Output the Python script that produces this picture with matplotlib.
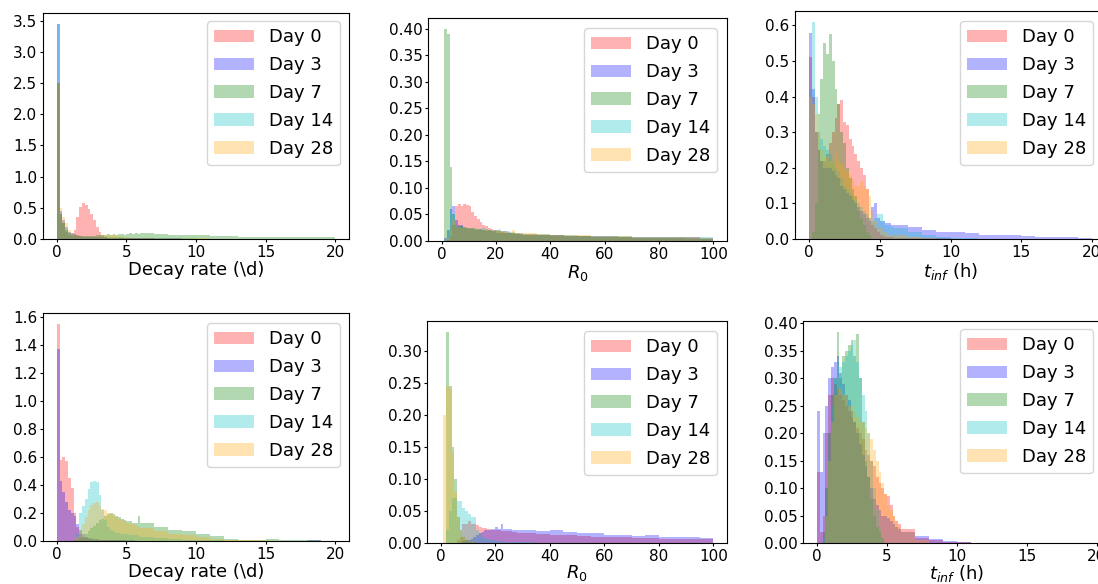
import numpy as np
import matplotlib
matplotlib.use("Agg")
import matplotlib.pyplot as plt
from matplotlib.ticker import MultipleLocator

# ---------------- data ----------------
labels = ["Day 0", "Day 3", "Day 7", "Day 14", "Day 28"]
colors = ["red", "blue", "green", "c", "orange"]

# bins: 30 fine bins followed by 14 coarse tail bins
rate_edges = list(np.linspace(0, 6, 31)) + list(range(7, 21))   # decay rate and t_inf
r0_edges = list(np.linspace(0, 30, 31)) + list(range(35, 101, 5))  # R0

# ---- top row: decay rate ----
A_d0 = [2.5, 0.4, 0.25, 0.12, 0.06, 0.05, 0.15, 0.35, 0.52, 0.57, 0.55, 0.48, 0.4, 0.3, 0.2, 0.12, 0.06, 0.03, 0.02, 0.02,
        0.02, 0.02, 0.02, 0.015, 0.015, 0.015, 0.01, 0.01, 0.01, 0.01,
        0.01, 0.008, 0.008, 0.006, 0.005, 0.005, 0.004, 0.004, 0.003, 0.003, 0.002, 0.002, 0.002, 0.002]
A_d3 = [3.45, 0.45, 0.3, 0.2, 0.12, 0.1, 0.08, 0.06, 0.05, 0.04, 0.04, 0.03, 0.03, 0.03, 0.03, 0.03, 0.03, 0.03, 0.02, 0.02,
        0.02, 0.02, 0.02, 0.02, 0.02, 0.015, 0.015, 0.015, 0.015, 0.015,
        0.012, 0.01, 0.01, 0.008, 0.008, 0.006, 0.006, 0.005, 0.005, 0.004, 0.004, 0.003, 0.003, 0.002]
A_d7 = [2.5, 0.4, 0.25, 0.15, 0.1, 0.08, 0.06, 0.05, 0.05, 0.05, 0.05, 0.05, 0.05, 0.05, 0.06, 0.06, 0.07, 0.07, 0.08, 0.07,
        0.08, 0.07, 0.08, 0.08, 0.07, 0.08, 0.09, 0.08, 0.09, 0.08,
        0.1, 0.08, 0.07, 0.065, 0.06, 0.05, 0.045, 0.04, 0.035, 0.035, 0.035, 0.03, 0.03, 0.025]
A_d14 = [3.45, 0.4, 0.25, 0.15, 0.1, 0.07, 0.05, 0.04, 0.03, 0.03, 0.03, 0.03, 0.03, 0.03, 0.03, 0.03, 0.03, 0.03, 0.03, 0.03,
         0.03, 0.025, 0.025, 0.025, 0.02, 0.02, 0.02, 0.02, 0.02, 0.02,
         0.015, 0.012, 0.01, 0.01, 0.008, 0.008, 0.006, 0.005, 0.005, 0.004, 0.003, 0.003, 0.002, 0.002]
A_d28 = [2.5, 0.5, 0.35, 0.25, 0.15, 0.1, 0.08, 0.06, 0.05, 0.04, 0.03, 0.03, 0.03, 0.03, 0.03, 0.04, 0.05, 0.06, 0.07, 0.07,
         0.07, 0.06, 0.05, 0.04, 0.03, 0.03, 0.02, 0.02, 0.02, 0.02,
         0.015, 0.015, 0.012, 0.01, 0.01, 0.008, 0.006, 0.005, 0.005, 0.004, 0.003, 0.003, 0.002, 0.002]

# ---- top row: R0 ----
B_d0 = [0, 0, 0.002, 0.01, 0.03, 0.065, 0.07, 0.065, 0.07, 0.068, 0.065, 0.055, 0.048, 0.042, 0.035, 0.03, 0.028, 0.025, 0.022, 0.02,
        0.02, 0.019, 0.018, 0.018, 0.017, 0.016, 0.016, 0.015, 0.015, 0.014,
        0.013, 0.012, 0.011, 0.01, 0.009, 0.008, 0.008, 0.007, 0.006, 0.006, 0.005, 0.005, 0.005, 0.004]
B_d3 = [0, 0.005, 0.02, 0.06, 0.065, 0.04, 0.03, 0.03, 0.025, 0.025, 0.022, 0.022, 0.02, 0.02, 0.02, 0.02, 0.018, 0.02, 0.018, 0.018,
        0.016, 0.016, 0.016, 0.015, 0.015, 0.015, 0.014, 0.014, 0.013, 0.013,
        0.012, 0.012, 0.011, 0.01, 0.01, 0.009, 0.009, 0.008, 0.008, 0.008, 0.007, 0.007, 0.007, 0.006]
B_d7 = [0, 0.4, 0.39, 0.14, 0.05, 0.03, 0.028, 0.028, 0.026, 0.025, 0.025, 0.024, 0.023, 0.022, 0.022, 0.021, 0.02, 0.02, 0.019, 0.019,
        0.018, 0.018, 0.017, 0.016, 0.016, 0.015, 0.015, 0.014, 0.014, 0.013,
        0.012, 0.011, 0.01, 0.009, 0.009, 0.008, 0.007, 0.007, 0.006, 0.006, 0.005, 0.005, 0.004, 0.004]
B_d14 = [0, 0, 0.02, 0.06, 0.05, 0.03, 0.028, 0.026, 0.026, 0.025, 0.025, 0.024, 0.024, 0.023, 0.022, 0.025, 0.022, 0.021, 0.02, 0.02,
         0.02, 0.022, 0.019, 0.018, 0.018, 0.017, 0.017, 0.016, 0.016, 0.015,
         0.014, 0.013, 0.012, 0.011, 0.01, 0.01, 0.009, 0.009, 0.008, 0.008, 0.008, 0.007, 0.007, 0.007]
B_d28 = [0, 0, 0.005, 0.02, 0.04, 0.03, 0.026, 0.025, 0.025, 0.024, 0.024, 0.023, 0.022, 0.022, 0.021, 0.02, 0.02, 0.02, 0.019, 0.019,
         0.018, 0.018, 0.017, 0.017, 0.016, 0.016, 0.02, 0.016, 0.015, 0.015,
         0.016, 0.014, 0.012, 0.011, 0.012, 0.01, 0.009, 0.009, 0.008, 0.008, 0.008, 0.007, 0.007, 0.006]

# ---- top row: t_inf ----
C_d0 = [0.51, 0.4, 0.3, 0.25, 0.22, 0.22, 0.24, 0.27, 0.3, 0.34, 0.38, 0.39, 0.33, 0.32, 0.28, 0.26, 0.24, 0.22, 0.2, 0.18,
        0.14, 0.06, 0.04, 0.03, 0.02, 0.01, 0.008, 0.006, 0.005, 0.005,
        0.004, 0.003, 0.002, 0.002, 0.001, 0.001, 0, 0, 0, 0, 0, 0, 0, 0]
C_d3 = [0.58, 0.42, 0.3, 0.25, 0.22, 0.2, 0.2, 0.2, 0.19, 0.18, 0.17, 0.15, 0.14, 0.13, 0.12, 0.11, 0.1, 0.09, 0.08, 0.07,
        0.06, 0.05, 0.09, 0.1, 0.06, 0.05, 0.05, 0.045, 0.045, 0.04,
        0.04, 0.035, 0.025, 0.02, 0.02, 0.018, 0.012, 0.01, 0.012, 0.008, 0.006, 0.006, 0.005, 0.004]
C_d7 = [0, 0.02, 0.1, 0.35, 0.45, 0.55, 0.52, 0.575, 0.5, 0.42, 0.38, 0.3, 0.27, 0.2, 0.17, 0.14, 0.12, 0.08, 0.06, 0.04,
        0.02, 0.01, 0, 0, 0, 0, 0, 0, 0, 0,
        0, 0, 0, 0, 0, 0, 0, 0, 0, 0, 0, 0, 0, 0]
C_d14 = [0.42, 0.61, 0.4, 0.3, 0.28, 0.26, 0.25, 0.24, 0.22, 0.2, 0.19, 0.17, 0.15, 0.14, 0.13, 0.12, 0.11, 0.1, 0.09, 0.08,
         0.07, 0.06, 0.05, 0.06, 0.07, 0.07, 0.05, 0.04, 0.04, 0.035,
         0.03, 0.02, 0.01, 0.005, 0.003, 0.002, 0, 0, 0, 0, 0, 0, 0, 0]
C_d28 = [0.4, 0.38, 0.35, 0.3, 0.25, 0.23, 0.23, 0.22, 0.22, 0.24, 0.22, 0.21, 0.2, 0.19, 0.18, 0.17, 0.15, 0.15, 0.16, 0.15,
         0.14, 0.12, 0.08, 0.05, 0.03, 0.03, 0.02, 0.02, 0.01, 0.01,
         0.01, 0.005, 0.002, 0, 0, 0, 0, 0, 0, 0, 0, 0, 0, 0]

# ---- bottom row: decay rate ----
D_d0 = [1.55, 0.58, 0.6, 0.57, 0.45, 0.38, 0.2, 0.1, 0.05, 0.03, 0.02, 0.015, 0.01, 0.01, 0.01, 0.008, 0.008, 0.006, 0.006, 0.005,
        0.005, 0.004, 0.004, 0.004, 0.003, 0.003, 0.003, 0.002, 0.002, 0.002,
        0.002, 0.001, 0.001, 0.001, 0, 0, 0, 0, 0, 0, 0, 0, 0, 0]
D_d3 = [1.37, 0.43, 0.35, 0.28, 0.22, 0.2, 0.18, 0.12, 0.08, 0.05, 0.03, 0.02, 0.02, 0.015, 0.012, 0.01, 0.01, 0.008, 0.008, 0.007,
        0.006, 0.006, 0.005, 0.005, 0.005, 0.004, 0.004, 0.004, 0.003, 0.003,
        0.003, 0.003, 0.002, 0.002, 0.002, 0.002, 0.001, 0.001, 0.001, 0.001, 0.001, 0.001, 0.005, 0.001]
D_d7 = [0, 0, 0, 0, 0, 0, 0.005, 0.01, 0.02, 0.03, 0.05, 0.07, 0.09, 0.11, 0.13, 0.15, 0.16, 0.18, 0.19, 0.2,
        0.19, 0.18, 0.17, 0.16, 0.15, 0.14, 0.14, 0.13, 0.13, 0.18,
        0.13, 0.1, 0.08, 0.07, 0.05, 0.035, 0.012, 0.01, 0.006, 0.012, 0.01, 0.008, 0.004, 0.002]
D_d14 = [0, 0, 0, 0, 0, 0, 0.01, 0.05, 0.2, 0.25, 0.3, 0.37, 0.42, 0.43, 0.42, 0.33, 0.22, 0.15, 0.1, 0.08,
         0.07, 0.06, 0.06, 0.05, 0.05, 0.05, 0.04, 0.04, 0.04, 0.035,
         0.03, 0.02, 0.015, 0.01, 0.006, 0.004, 0.003, 0.002, 0.001, 0.001, 0, 0, 0, 0]
D_d28 = [0, 0, 0, 0, 0, 0, 0.01, 0.03, 0.08, 0.12, 0.17, 0.22, 0.26, 0.27, 0.28, 0.25, 0.23, 0.22, 0.2, 0.19,
         0.18, 0.17, 0.16, 0.15, 0.14, 0.13, 0.12, 0.12, 0.11, 0.1,
         0.09, 0.07, 0.05, 0.04, 0.03, 0.015, 0.01, 0.005, 0.005, 0.003, 0.002, 0.001, 0.001, 0]

# ---- bottom row: R0 ----
E_d0 = [0, 0, 0, 0, 0, 0, 0.005, 0.01, 0.03, 0.03, 0.035, 0.03, 0.03, 0.028, 0.025, 0.024, 0.023, 0.022, 0.022, 0.021,
        0.02, 0.02, 0.019, 0.019, 0.018, 0.018, 0.017, 0.017, 0.016, 0.016,
        0.015, 0.014, 0.013, 0.012, 0.011, 0.01, 0.01, 0.009, 0.008, 0.008, 0.007, 0.007, 0.006, 0.006]
E_d3 = [0, 0, 0, 0, 0, 0, 0, 0, 0.003, 0.004, 0.005, 0.007, 0.01, 0.012, 0.015, 0.017, 0.02, 0.02, 0.02, 0.022,
        0.025, 0.022, 0.03, 0.022, 0.022, 0.022, 0.021, 0.021, 0.02, 0.02,
        0.02, 0.018, 0.02, 0.017, 0.016, 0.015, 0.013, 0.012, 0.011, 0.012, 0.01, 0.01, 0.01, 0.008]
E_d7 = [0, 0, 0.33, 0.245, 0.15, 0.1, 0.04, 0.02, 0.01, 0.005, 0.003, 0.002, 0.001, 0, 0, 0, 0, 0, 0, 0,
        0, 0, 0, 0, 0, 0, 0, 0, 0, 0,
        0, 0, 0, 0, 0, 0, 0, 0, 0, 0, 0, 0, 0, 0]
E_d14 = [0, 0, 0.02, 0.05, 0.07, 0.07, 0.065, 0.065, 0.055, 0.05, 0.045, 0.04, 0.04, 0.02, 0.015, 0.01, 0.008, 0.006, 0.005, 0.004,
         0.003, 0.003, 0.002, 0.002, 0.002, 0.001, 0.001, 0.001, 0.001, 0.001,
         0.001, 0, 0, 0, 0, 0, 0, 0, 0, 0, 0, 0, 0, 0]
E_d28 = [0, 0.2, 0.245, 0.24, 0.14, 0.08, 0.04, 0.02, 0.01, 0.005, 0.003, 0.002, 0.001, 0, 0, 0, 0, 0, 0, 0,
         0, 0, 0, 0, 0, 0, 0, 0, 0, 0,
         0, 0, 0, 0, 0, 0, 0, 0, 0, 0, 0, 0, 0, 0]

# ---- bottom row: t_inf ----
F_d0 = [0.13, 0.02, 0.05, 0.2, 0.27, 0.3, 0.29, 0.28, 0.27, 0.26, 0.25, 0.24, 0.23, 0.22, 0.21, 0.2, 0.19, 0.17, 0.16, 0.15,
        0.14, 0.12, 0.11, 0.1, 0.09, 0.085, 0.07, 0.05, 0.04, 0.035,
        0.025, 0.01, 0.005, 0.002, 0.001, 0, 0, 0, 0, 0, 0, 0, 0, 0]
F_d3 = [0.24, 0.13, 0.2, 0.25, 0.3, 0.32, 0.33, 0.34, 0.31, 0.29, 0.27, 0.26, 0.24, 0.22, 0.2, 0.18, 0.16, 0.14, 0.12, 0.1,
        0.08, 0.07, 0.06, 0.05, 0.05, 0.045, 0.04, 0.035, 0.03, 0.025,
        0.02, 0.012, 0.008, 0.004, 0.002, 0, 0, 0, 0, 0, 0, 0, 0, 0]
F_d7 = [0, 0, 0.02, 0.1, 0.2, 0.27, 0.3, 0.385, 0.3, 0.34, 0.35, 0.36, 0.37, 0.34, 0.38, 0.3, 0.22, 0.15, 0.12, 0.08,
        0.05, 0.03, 0.02, 0.01, 0, 0, 0, 0, 0, 0,
        0, 0, 0, 0, 0, 0, 0, 0, 0, 0, 0, 0, 0, 0]
F_d14 = [0, 0, 0.01, 0.05, 0.15, 0.25, 0.3, 0.33, 0.32, 0.33, 0.34, 0.35, 0.36, 0.37, 0.33, 0.3, 0.27, 0.24, 0.2, 0.15,
         0.1, 0.06, 0.03, 0.01, 0, 0, 0, 0, 0, 0,
         0, 0, 0, 0, 0, 0, 0, 0, 0, 0, 0, 0, 0, 0]
F_d28 = [0, 0, 0, 0.05, 0.15, 0.22, 0.27, 0.28, 0.28, 0.27, 0.27, 0.25, 0.25, 0.24, 0.23, 0.22, 0.22, 0.21, 0.2, 0.19,
         0.17, 0.15, 0.13, 0.11, 0.09, 0.07, 0.06, 0.05, 0.04, 0.03,
         0.02, 0.005, 0, 0, 0, 0, 0, 0, 0, 0, 0, 0, 0, 0]

xlabel_rate = "Decay rate (\\d)"
xlabel_r0 = "$R_0$"
xlabel_tinf = "$t_{inf}$ (h)"

# ---------------- figure ----------------
W, H = 1098, 584
fig = plt.figure(figsize=(W / 100, H / 100), dpi=100)


def box(l, t, r, b):
    return [l / W, 1 - b / H, (r - l) / W, (b - t) / H]


# (axes box, edges, series, xlabel, xlim, y tick step, xlabel centre below axes [px], legend right/top [px])
panels = [
    (box(43, 13, 349, 239), rate_edges, [A_d0, A_d3, A_d7, A_d14, A_d28], xlabel_rate, (-1, 21), 0.5, 31, (340, 21)),
    (box(428, 18, 727, 241), r0_edges, [B_d0, B_d3, B_d7, B_d14, B_d28], xlabel_r0, (-5, 105), 0.05, 32, (717, 28)),
    (box(795, 11, 1106, 239), rate_edges, [C_d0, C_d3, C_d7, C_d14, C_d28], xlabel_tinf, (-1, 21), 0.1, 33, (1093, 21)),
    (box(43, 313, 349, 541), rate_edges, [D_d0, D_d3, D_d7, D_d14, D_d28], xlabel_rate, (-1, 21), 0.2, 31, (340, 323)),
    (box(427, 321, 727, 543), r0_edges, [E_d0, E_d3, E_d7, E_d14, E_d28], xlabel_r0, (-5, 105), 0.05, 30, (717, 331)),
    (box(803, 321, 1111, 543), rate_edges, [F_d0, F_d3, F_d7, F_d14, F_d28], xlabel_tinf, (-1, 21), 0.05, 30, (1093, 329)),
]

for rect, edges, series, xl, xlim, ystep, lab_off, (lr, lt) in panels:
    ax = fig.add_axes(rect)
    e = np.asarray(edges, dtype=float)
    centers = 0.5 * (e[:-1] + e[1:])
    for h, lab, col in zip(series, labels, colors):
        ax.hist(centers, bins=e, weights=h, color=col, alpha=0.3, label=lab)
    ax.set_xlim(*xlim)
    ax.yaxis.set_major_locator(MultipleLocator(ystep))
    ax.tick_params(labelsize=11, length=2.5, pad=1.5)
    ax.set_xlabel(xl, fontsize=13)
    ax_h_px = rect[3] * H
    ax.xaxis.set_label_coords(0.5, -lab_off / ax_h_px)
    ax.xaxis.label.set_va("center")
    ax.legend(loc="upper right", bbox_to_anchor=(lr / W, 1 - lt / H), bbox_transform=fig.transFigure,
              borderaxespad=0, fontsize=13, labelspacing=0.55, handlelength=2.2)

fig.savefig("out.png", dpi=100)
